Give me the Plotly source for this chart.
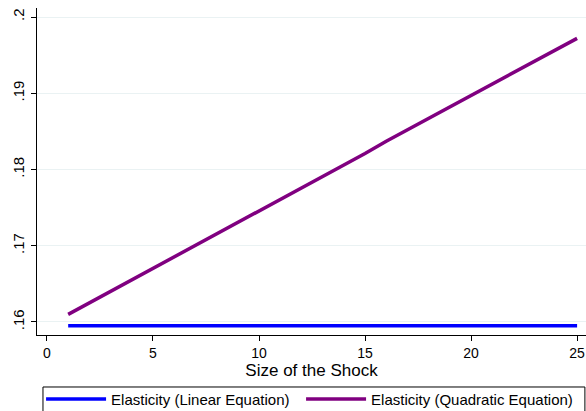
import plotly.graph_objects as go

shock = list(range(1, 26))
linear_elast = [0.1595] * 25
quad_elast = [0.1610, 0.1625, 0.1640, 0.1655, 0.1670, 0.1686, 0.1701, 0.1716,
              0.1731, 0.1746, 0.1761, 0.1776, 0.1791, 0.1806, 0.1821, 0.1837,
              0.1852, 0.1867, 0.1882, 0.1897, 0.1912, 0.1927, 0.1942, 0.1957, 0.1972]

y_ticks = [0.16, 0.17, 0.18, 0.19, 0.2]
y_labels = [".16", ".17", ".18", ".19", ".2"]

fig = go.Figure()
fig.add_trace(go.Scatter(x=shock, y=linear_elast, mode="lines",
                         name="Elasticity (Linear Equation)", legend="legend",
                         line=dict(color="#0000ff", width=3.5)))
fig.add_trace(go.Scatter(x=shock, y=quad_elast, mode="lines",
                         name="Elasticity (Quadratic Equation)", legend="legend2",
                         line=dict(color="#800080", width=3.5)))

# one legend per series so the long second label is not clipped; the frame is a shape
leg = dict(orientation="h", yanchor="top", xanchor="left", y=-0.146,
           borderwidth=0, font=dict(size=15), itemwidth=60, bgcolor="rgba(0,0,0,0)")

fig.update_layout(
    width=586, height=411,
    margin=dict(l=37, r=0, t=8, b=76, autoexpand=False),
    paper_bgcolor="white", plot_bgcolor="white",
    font=dict(family="Liberation Sans, Arial", size=14, color="black"),
    showlegend=True,
    legend=dict(leg, x=0.0074),
    legend2=dict(leg, x=0.481),
    shapes=[dict(type="rect", xref="paper", yref="paper",
                 x0=0.0109, x1=0.998, y0=-0.159, y1=-0.35,
                 line=dict(color="black", width=1))],
)
fig.update_xaxes(range=[-0.47, 25.42], tickvals=[0, 5, 10, 15, 20, 25],
                 showline=True, linecolor="black", linewidth=1,
                 ticks="outside", ticklen=5, tickcolor="black",
                 ticklabeloverflow="allow",
                 showgrid=False, zeroline=False, automargin=False,
                 title=dict(text="Size of the Shock", standoff=1))
fig.update_yaxes(range=[0.15829, 0.20118], tickvals=y_ticks, ticktext=y_labels,
                 tickangle=-90, ticklabelstandoff=1, showline=True,
                 linecolor="black", linewidth=1, tickfont=dict(size=15),
                 ticks="outside", ticklen=5, tickcolor="black", automargin=False,
                 showgrid=True, gridcolor="#eaf2f3", gridwidth=1, zeroline=False)

# page has a default body margin, drop it so the figure sits at 0,0
fig.write_html("out.html", config={"displayModeBar": False},
               post_script="document.body.style.margin='0';")
